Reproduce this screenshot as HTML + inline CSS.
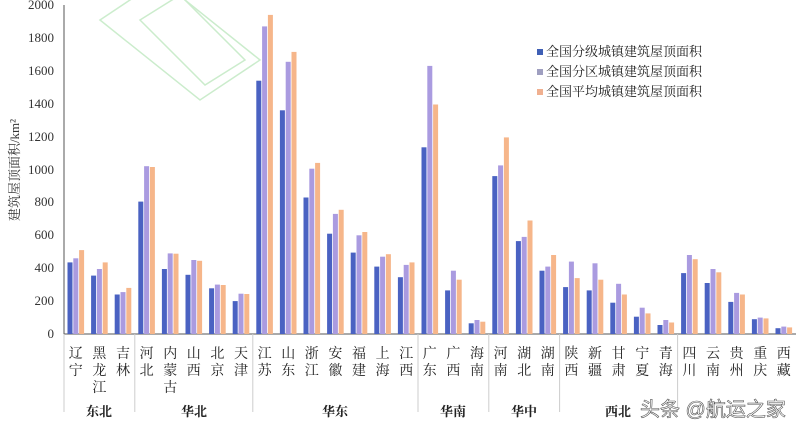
<!DOCTYPE html>
<html><head><meta charset="utf-8"><style>
html,body{margin:0;padding:0;background:#fff;}
svg{display:block;font-family:"Liberation Serif","Noto Serif CJK SC",serif;}
.p{font-size:14px;fill:#222;text-anchor:middle;}
.r{font-size:13px;font-weight:bold;fill:#222;text-anchor:middle;}
.y{font-size:13px;fill:#333;text-anchor:end;}
</style></head><body>
<svg id="s" width="800" height="430" viewBox="0 0 800 430">
<g stroke="#bfe8c0" stroke-width="1.5" fill="none" opacity="0.8">
<path d="M100 20 L160 -20 L260 60 L200 100 Z"/><path d="M140 20 L180 -5 L245 60 L205 85 Z"/>
</g>
<line x1="64" y1="5" x2="64" y2="334" stroke="#555"/>
<line x1="64" y1="334" x2="796" y2="334" stroke="#555"/>
<g class="y">
<text x="54" y="338">0</text><text x="54" y="305">200</text><text x="54" y="272">400</text><text x="54" y="239">600</text><text x="54" y="206">800</text><text x="54" y="174">1000</text><text x="54" y="141">1200</text><text x="54" y="108">1400</text><text x="54" y="75">1600</text><text x="54" y="42">1800</text><text x="54" y="9">2000</text>
</g>
<text transform="translate(19,170) rotate(-90)" font-size="13" fill="#333" text-anchor="middle">建筑屋顶面积/km²</text>
<g id="bars"></g>
<g stroke="#ccc">
<line x1="64" y1="334" x2="64" y2="412"/><line x1="134.8" y1="334" x2="134.8" y2="412"/><line x1="252.8" y1="334" x2="252.8" y2="412"/><line x1="418" y1="334" x2="418" y2="412"/><line x1="488.8" y1="334" x2="488.8" y2="412"/><line x1="559.6" y1="334" x2="559.6" y2="412"/><line x1="677.6" y1="334" x2="677.6" y2="412"/>
</g>
<g class="p">
<text x="75.8" y="358">辽</text><text x="75.8" y="375">宁</text>
<text x="99.4" y="358">黑</text><text x="99.4" y="375">龙</text><text x="99.4" y="392">江</text>
<text x="123" y="358">吉</text><text x="123" y="375">林</text>
<text x="146.6" y="358">河</text><text x="146.6" y="375">北</text>
<text x="170.2" y="358">内</text><text x="170.2" y="375">蒙</text><text x="170.2" y="392">古</text>
<text x="193.8" y="358">山</text><text x="193.8" y="375">西</text>
<text x="217.4" y="358">北</text><text x="217.4" y="375">京</text>
<text x="241" y="358">天</text><text x="241" y="375">津</text>
<text x="264.6" y="358">江</text><text x="264.6" y="375">苏</text>
<text x="288.2" y="358">山</text><text x="288.2" y="375">东</text>
<text x="311.8" y="358">浙</text><text x="311.8" y="375">江</text>
<text x="335.4" y="358">安</text><text x="335.4" y="375">徽</text>
<text x="359" y="358">福</text><text x="359" y="375">建</text>
<text x="382.6" y="358">上</text><text x="382.6" y="375">海</text>
<text x="406.2" y="358">江</text><text x="406.2" y="375">西</text>
<text x="429.8" y="358">广</text><text x="429.8" y="375">东</text>
<text x="453.4" y="358">广</text><text x="453.4" y="375">西</text>
<text x="477" y="358">海</text><text x="477" y="375">南</text>
<text x="500.6" y="358">河</text><text x="500.6" y="375">南</text>
<text x="524.2" y="358">湖</text><text x="524.2" y="375">北</text>
<text x="547.8" y="358">湖</text><text x="547.8" y="375">南</text>
<text x="571.4" y="358">陕</text><text x="571.4" y="375">西</text>
<text x="595" y="358">新</text><text x="595" y="375">疆</text>
<text x="618.6" y="358">甘</text><text x="618.6" y="375">肃</text>
<text x="642.2" y="358">宁</text><text x="642.2" y="375">夏</text>
<text x="665.8" y="358">青</text><text x="665.8" y="375">海</text>
<text x="689.4" y="358">四</text><text x="689.4" y="375">川</text>
<text x="713" y="358">云</text><text x="713" y="375">南</text>
<text x="736.6" y="358">贵</text><text x="736.6" y="375">州</text>
<text x="760.2" y="358">重</text><text x="760.2" y="375">庆</text>
<text x="783.8" y="358">西</text><text x="783.8" y="375">藏</text>
</g>
<g class="r">
<text x="99" y="416">东北</text><text x="194" y="416">华北</text><text x="335" y="416">华东</text><text x="453" y="416">华南</text><text x="524" y="416">华中</text><text x="618" y="416">西北</text>
</g>
<text x="640" y="416" font-family="Liberation Sans,Noto Sans CJK SC,sans-serif" font-size="20" fill="#fff" stroke="#555" stroke-width="0.6">头条 @航运之家</text>
<g font-size="13" fill="#222">
<rect x="537" y="49" width="6" height="6" fill="#3f5fb5"/><text x="546" y="56">全国分级城镇建筑屋顶面积</text>
<rect x="537" y="69" width="6" height="6" fill="#9f9fc0"/><text x="546" y="76">全国分区城镇建筑屋顶面积</text>
<rect x="537" y="89" width="6" height="6" fill="#f0b090"/><text x="546" y="96">全国平均城镇建筑屋顶面积</text>
</g>
</svg>
<script>
var d=[[435,460,510],[355,395,435],[240,255,280],[805,1020,1015],[395,490,488],[360,450,445],[278,300,298],[200,245,243],[1540,1870,1940],[1360,1655,1715],[830,1005,1040],[610,730,755],[495,600,620],[410,470,485],[345,420,435],[1135,1630,1395],[265,385,330],[65,85,75],[960,1025,1195],[565,590,690],[385,410,480],[285,440,340],[265,430,330],[190,305,240],[105,160,125],[55,85,70],[370,480,455],[310,395,375],[195,250,240],[90,100,95],[35,45,40]];
var c=["#4a62c2","#aa9be0","#f6b68a"],g=document.getElementById("bars"),h="";
d.forEach(function(v,i){var cx=64+23.6*(i+0.5);v.forEach(function(val,j){var hh=val*0.1645;h+='<rect x="'+(cx-8.3+j*5.8).toFixed(1)+'" y="'+(334-hh).toFixed(1)+'" width="5" height="'+hh.toFixed(1)+'" fill="'+c[j]+'"/>';});});
g.innerHTML=h;
</script>
</body></html>
